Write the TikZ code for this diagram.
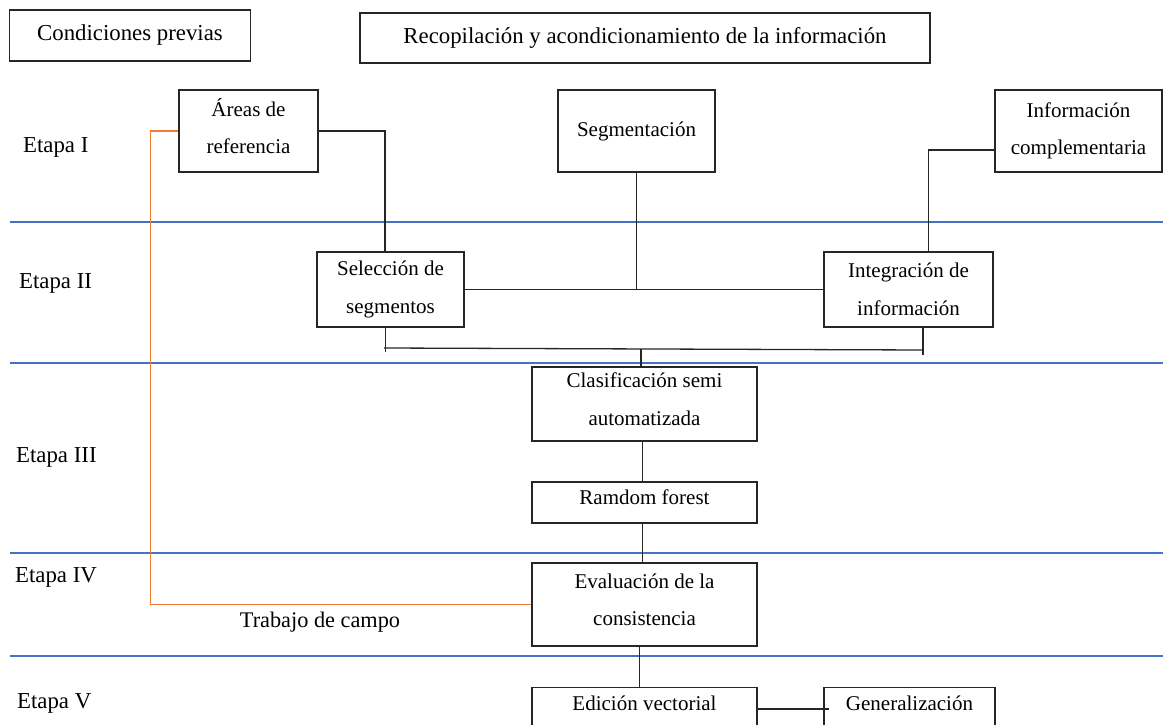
\documentclass[tikz,border=0pt]{standalone}
\usepackage{fontspec}
\setmainfont{Liberation Serif}
\definecolor{bandblue}{HTML}{4472C4}
\definecolor{fieldorange}{HTML}{ED7D31}
\definecolor{inkgray}{HTML}{262626}
\newcommand\lowpad{\rule[-10pt]{0pt}{10pt}}
\begin{document}
\begin{tikzpicture}[x=1pt,y=-1pt,
  hdr/.style={draw=inkgray, line width=1.3pt, inner sep=0pt, align=center,
    font=\fontsize{22.8}{27}\selectfont},
  box/.style={draw=inkgray, line width=1.3pt, inner sep=0pt, align=center,
    font=\fontsize{21}{37.5}\selectfont},
  stage/.style={anchor=west, inner sep=0pt, font=\fontsize{22.8}{27}\selectfont},
  conn/.style={draw=inkgray, line width=1.3pt},
  band/.style={draw=bandblue, line width=2.6pt},
  field/.style={draw=fieldorange, line width=1.3pt}]
\useasboundingbox (0,0) rectangle (1163,725);
\clip (0,0) rectangle (1163,725);

% stage separators
\draw[band] (10,222) -- (1163,222);
\draw[band] (10,363) -- (1163,363);
\draw[band] (10,553) -- (1163,553);
\draw[band] (10,656) -- (1163,656);

% header boxes
\node[hdr, minimum width=241, minimum height=51] (cp) at (130,35.5) {Condiciones previas};
\node[hdr, minimum width=570, minimum height=50] (rec) at (645,38) {Recopilación y acondicionamiento de la información};

% stage labels
\node[stage] (e1) at (23,147) {Etapa I};
\node[stage] (e2) at (19,283) {Etapa II};
\node[stage] (e3) at (16,457) {Etapa III};
\node[stage] (e4) at (15,577) {Etapa IV};
\node[stage] (e5) at (17,703) {Etapa V};

% Etapa I
\node[box, minimum width=139, minimum height=82] (ar) at (248.5,131) {Áreas de\\referencia\lowpad};
\node[box, minimum width=157, minimum height=82] (seg) at (636.5,131) {Segmentación};
\node[box, minimum width=167, minimum height=82] (inf) at (1078.5,131) {Información\\complementaria};

% Etapa II
\node[box, minimum width=147, minimum height=75] (sel) at (390.5,289.5) {Selección de\\segmentos};
\node[box, minimum width=169, minimum height=75] (int) at (908.5,289.5) {Integración de\\información};

% Etapa III
\node[box, minimum width=225, minimum height=74] (cla) at (644.5,404) {Clasificación semi\\automatizada\lowpad};
\node[box, minimum width=225, minimum height=41] (rf) at (644.5,502.5) {Ramdom forest\lowpad};

% Etapa IV
\node[box, minimum width=225, minimum height=83] (ev) at (644.5,604.5) {Evaluación de la\\consistencia\lowpad};
\node[font=\fontsize{22.3}{27}\selectfont, inner sep=0pt] (tc) at (320,622) {Trabajo de campo};

% Etapa V
\node[box, minimum width=225, minimum height=80, anchor=north] (ed) at (644.5,687) {Edición vectorial\\\strut};
\node[box, minimum width=171, minimum height=80, anchor=north] (gen) at (909.5,687) {Generalización\\\strut};

% connectors
\draw[conn] (ar.east) -| ([xshift=-5.5pt]sel.north);
\draw[conn] (seg.south) -- (seg.south |- sel.east);
\draw[conn] (sel.east) -- (int.west);
\draw[conn] ([yshift=-19pt]inf.west) -| ([xshift=20pt]int.north);

\coordinate (bL) at (384,348);
\coordinate (bR) at (923,350);
\coordinate (bM) at (641,349);
\draw[conn] ([xshift=-5pt]sel.south) -- ++(0,24);
\draw[conn] ([xshift=14.5pt]int.south) -- ++(0,27);
\draw[conn] (bL) -- (bR);
\draw[conn] (bM) -- (bM |- cla.north);

\draw[conn] ([xshift=-2pt]cla.south) -- ([xshift=-2pt]rf.north);
\draw[conn] ([xshift=-2pt]rf.south) -- ([xshift=-2pt]ev.north);
\draw[conn] ([xshift=-5pt]ev.south) -- ([xshift=-5pt]ed.north);
\draw[conn] ([yshift=-22pt]ed.north east) -- ([yshift=-22pt,xshift=6pt]gen.north west);

% field work loop
\draw[field] (ar.west) -- ++(-28,0) |- (ev.west);
\end{tikzpicture}
\end{document}
